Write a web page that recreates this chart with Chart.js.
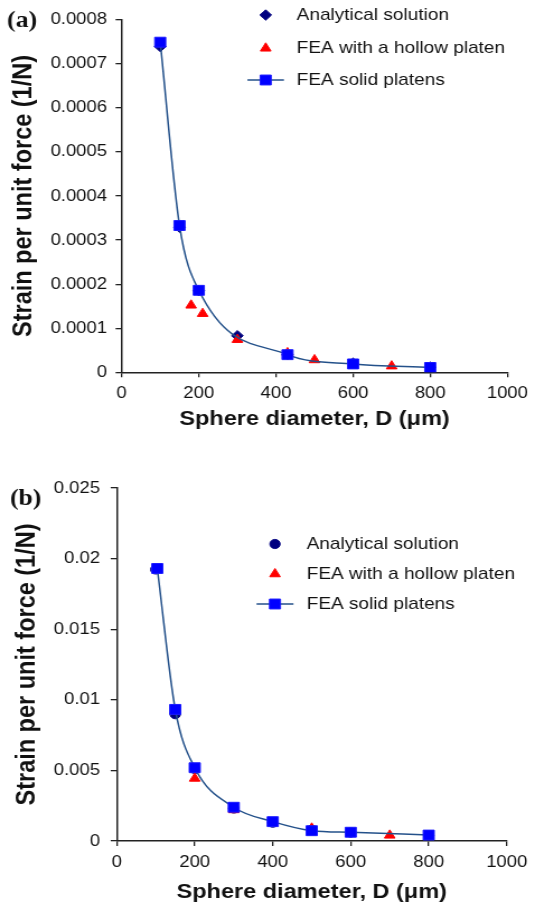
<!DOCTYPE html>
<html>
<head>
<meta charset="utf-8">
<script src="https://cdn.jsdelivr.net/npm/chart.js@4.4.1/dist/chart.umd.min.js"></script>
<style>
  html, body { margin: 0; padding: 0; background: #fff; }
  #wrap { position: relative; width: 535px; height: 908px; overflow: hidden; }
  .box { position: absolute; left: 0; width: 478px; transform: scaleX(1.1192); transform-origin: 0 0; }
  #boxA { top: 0; height: 455px; }
  #boxB { top: 455px; height: 453px; }
</style>
</head>
<body>
<div id="wrap">
  <div class="box" id="boxA"><canvas id="chartA"></canvas></div>
  <div class="box" id="boxB"><canvas id="chartB"></canvas></div>
</div>
<script>
// ---------- data ----------
const seriesLabels = ['Analytical solution', 'FEA with a hollow platen', 'FEA solid platens'];
const xTitle = 'Sphere diameter, D (\u03bcm)';
const yTitle = 'Strain per unit force (1/N)';
const xTicks = [0, 200, 400, 600, 800, 1000];
const xTickLabels = ['0', '200', '400', '600', '800', '1000'];

// panel (a)
const aAnalyticalX = [100, 150, 200, 300, 430, 600, 800];
const aAnalyticalY = [0.000739, 0.000329, 0.000185, 0.000083, 0.000040, 0.0000205, 0.0000116];
const aHollowX = [180, 210, 300, 430, 500, 700];
const aHollowY = [0.000152, 0.000133, 0.000074, 0.000044, 0.000028, 0.000014];
const aSolidX = [100, 150, 200, 430, 600, 800];
const aSolidY = [0.000749, 0.000333, 0.000186, 0.000040, 0.000019, 0.000011];
const aYTicks = [0, 0.0001, 0.0002, 0.0003, 0.0004, 0.0005, 0.0006, 0.0007, 0.0008];
const aYTickLabels = ['0', '0.0001', '0.0002', '0.0003', '0.0004', '0.0005', '0.0006', '0.0007', '0.0008'];

// panel (b)
const bAnalyticalX = [100, 150, 200, 300, 400, 500, 600, 800];
const bAnalyticalY = [0.01923, 0.00898, 0.0051, 0.0023, 0.0013, 0.0008, 0.0006, 0.0004];
const bHollowX = [200, 300, 400, 500, 700];
const bHollowY = [0.00443, 0.0022, 0.0013, 0.0009, 0.0004];
const bSolidX = [104, 150, 200, 300, 400, 500, 600, 800];
const bSolidY = [0.0193, 0.00932, 0.00519, 0.00239, 0.00137, 0.00073, 0.00062, 0.00042];
const bYTicks = [0, 0.005, 0.01, 0.015, 0.02, 0.025];
const bYTickLabels = ['0', '0.005', '0.01', '0.015', '0.02', '0.025'];

// ---------- rendering ----------
Chart.defaults.font.family = '"Liberation Sans", Arial, Helvetica, sans-serif';
Chart.defaults.color = '#111';

const toPts = (xs, ys) => xs.map((x, i) => ({ x: x, y: ys[i] }));

function manualPoint(ctx, style, r, x, y) {
  ctx.beginPath();
  if (style === 'rect') { const s = Math.SQRT1_2 * r; ctx.rect(x - s, y - s, 2 * s, 2 * s); }
  else if (style === 'rectRot') { ctx.moveTo(x - r, y); ctx.lineTo(x, y - r); ctx.lineTo(x + r, y); ctx.lineTo(x, y + r); ctx.closePath(); }
  else if (style === 'triangle') {
    for (let k = 0; k < 3; k++) { const a = k * 2 * Math.PI / 3; const px = x + Math.sin(a) * r, py = y - Math.cos(a) * r; k ? ctx.lineTo(px, py) : ctx.moveTo(px, py); }
    ctx.closePath();
  } else { ctx.arc(x, y, r, 0, Math.PI * 2); }
  ctx.fill(); ctx.stroke();
}

const legendPlugin = {
  id: 'customLegend',
  afterDatasetsDraw(chart, args, o) {
    const ctx = chart.ctx;
    ctx.save();
    chart.data.datasets.forEach((ds, i) => {
      const y = o.rows[i];
      if (ds.showLine) {
        ctx.strokeStyle = ds.borderColor; ctx.lineWidth = ds.borderWidth;
        ctx.beginPath(); ctx.moveTo(o.markerX - o.lineHalf, y); ctx.lineTo(o.markerX + o.lineHalf, y); ctx.stroke();
      }
      ctx.fillStyle = ds.pointBackgroundColor; ctx.strokeStyle = ds.pointBorderColor; ctx.lineWidth = ds.pointBorderWidth;
      if (Chart.helpers && Chart.helpers.drawPoint) {
        Chart.helpers.drawPoint(ctx, { pointStyle: ds.pointStyle, radius: ds.pointRadius, rotation: 0, borderWidth: ds.pointBorderWidth }, o.markerX, y);
      } else {
        manualPoint(ctx, ds.pointStyle, ds.pointRadius, o.markerX, y);
      }
      ctx.fillStyle = '#111';
      ctx.font = o.font;
      ctx.textAlign = 'left'; ctx.textBaseline = 'middle';
      ctx.fillText(ds.label, o.textX, y);
    });
    ctx.font = 'bold 23px "Liberation Serif", "Times New Roman", serif';
    ctx.fillStyle = '#111';
    ctx.textAlign = 'left'; ctx.textBaseline = 'middle';
    ctx.fillText(o.panel, o.panelX, o.panelY);
    ctx.restore();
  }
};

function makeChart(id, p) {
  const datasets = [
    { label: seriesLabels[0], data: toPts(p.anX, p.anY), showLine: false,
      pointStyle: p.anStyle, pointRadius: p.anRadius, pointBackgroundColor: '#000080', pointBorderColor: '#000080', pointBorderWidth: 1, order: 3 },
    { label: seriesLabels[1], data: toPts(p.hoX, p.hoY), showLine: false,
      pointStyle: 'triangle', pointRadius: 5.5, pointBackgroundColor: '#ff0000', pointBorderColor: '#ff0000', pointBorderWidth: 1, order: 2 },
    { label: seriesLabels[2], data: toPts(p.soX, p.soY), showLine: true, fill: false,
      borderColor: '#24518a', borderWidth: 1.5, cubicInterpolationMode: 'monotone',
      pointStyle: 'rect', pointRadius: 7, pointBackgroundColor: '#0000ff', pointBorderColor: '#1a1aff', pointBorderWidth: 1, order: 1 }
  ];
  return new Chart(document.getElementById(id), {
    type: 'scatter',
    data: { datasets: datasets },
    options: {
      responsive: true, maintainAspectRatio: false, animation: false, events: [],
      devicePixelRatio: 1,
      layout: { padding: p.padding },
      plugins: { legend: { display: false }, tooltip: { enabled: false }, customLegend: p.legend },
      scales: {
        x: {
          type: 'linear', min: 0, max: 1000,
          afterBuildTicks: (s) => { s.ticks = xTicks.map(v => ({ value: v })); },
          afterFit: (s) => { s.height = p.xAxisHeight; },
          ticks: { callback: (v, i) => xTickLabels[i], font: { size: 16.5 }, color: '#111', padding: p.xTickPad, maxRotation: 0, autoSkip: false },
          grid: { drawOnChartArea: false, drawTicks: true, tickLength: 5, color: '#222', lineWidth: 1.3 },
          border: { display: true, color: '#222', width: 1.5 },
          title: { display: true, text: xTitle, font: { size: 21, weight: 'bold' }, color: '#111', padding: 0 }
        },
        y: {
          type: 'linear', min: p.yMin, max: p.yMax,
          afterBuildTicks: (s) => { s.ticks = p.yTicks.map(v => ({ value: v })); },
          afterFit: (s) => { s.width = p.yAxisWidth; },
          ticks: { callback: (v, i) => p.yTickLabels[i], font: { size: 16.5 }, color: '#111', padding: p.yTickPad, autoSkip: false },
          grid: { drawOnChartArea: false, drawTicks: true, tickLength: 5.4, color: '#222', lineWidth: 1.3 },
          border: { display: true, color: '#222', width: 1.5 },
          title: { display: true, text: yTitle, font: { size: 23.5, weight: 'bold' }, color: '#111', padding: { top: p.yTitlePad, bottom: 0 } }
        }
      }
    },
    plugins: [legendPlugin]
  });
}

makeChart('chartA', {
  anX: aAnalyticalX, anY: aAnalyticalY, anStyle: 'rectRot', anRadius: 5.2,
  hoX: aHollowX, hoY: aHollowY, soX: aSolidX, soY: aSolidY,
  yMin: 0, yMax: 0.0008, yTicks: aYTicks, yTickLabels: aYTickLabels,
  padding: { left: 0, right: 20.3, top: 19.7, bottom: 23.4 },
  xAxisHeight: 59.3, yAxisWidth: 108.7, xTickPad: 6.3, yTickPad: 7.7, yTitlePad: 7.3,
  legend: { rows: [15, 48.3, 80], markerX: 237.4, textX: 265.1, lineHalf: 16.3,
            font: '17px "Liberation Sans", Arial, sans-serif', panel: '(a)', panelX: 6.3, panelY: 21 }
});

makeChart('chartB', {
  anX: bAnalyticalX, anY: bAnalyticalY, anStyle: 'circle', anRadius: 4.6,
  hoX: bHollowX, hoY: bHollowY, soX: bSolidX, soY: bSolidY,
  yMin: 0, yMax: 0.025, yTicks: bYTicks, yTickLabels: bYTickLabels,
  padding: { left: 0, right: 16.3, top: 33, bottom: 2.9 },
  xAxisHeight: 64.1, yAxisWidth: 104.3, xTickPad: 6.9, yTickPad: 9.5, yTitlePad: 10.8,
  legend: { rows: [89, 119, 149], markerX: 245.7, textX: 274, lineHalf: 16.5,
            font: '17px "Liberation Sans", Arial, sans-serif', panel: '(b)', panelX: 8.9, panelY: 44 }
});
</script>
</body>
</html>
